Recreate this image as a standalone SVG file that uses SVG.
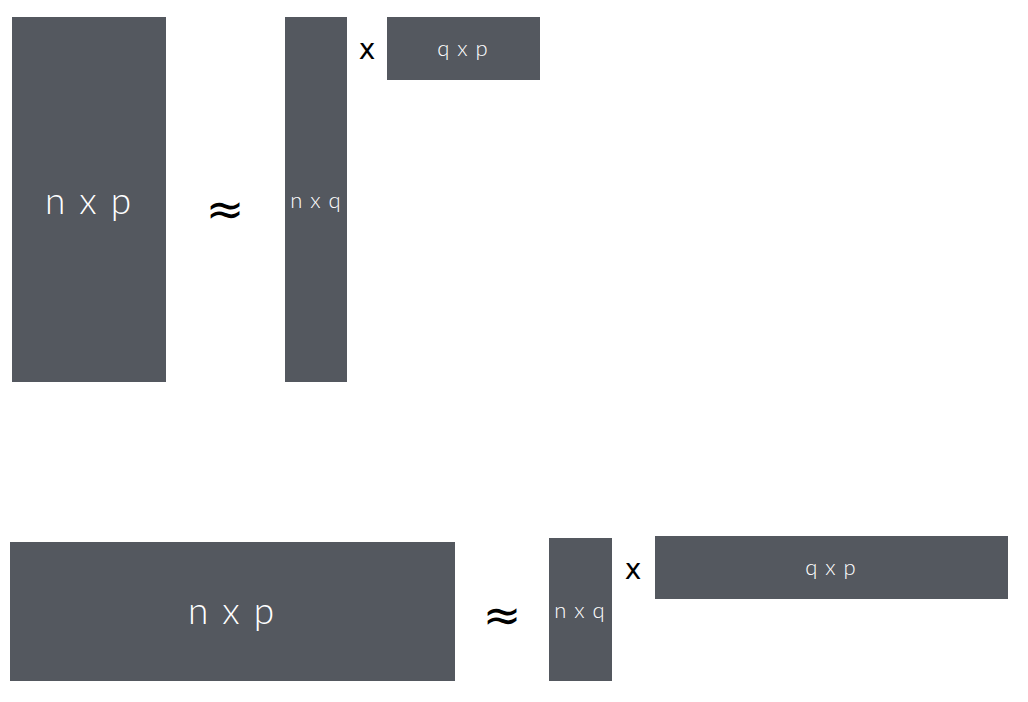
<svg xmlns="http://www.w3.org/2000/svg" width="1028" height="702" viewBox="0 0 1028 702">
<style>
.m{fill:#54585f}
.t{fill:#ffffff;font-family:Lato,"Open Sans",sans-serif;font-weight:300;text-anchor:middle;dominant-baseline:central}
.op{fill:#000000;font-family:"DejaVu Sans",sans-serif;text-anchor:middle;dominant-baseline:central}
</style>
<rect width="1028" height="702" fill="#ffffff"/>
<g id="top-nxp"><rect class="m" x="12" y="17" width="154" height="365"/><text class="t" x="89" y="199" font-size="37" letter-spacing="2">n x p</text></g>
<g id="top-approx"><text class="op" x="225" y="209" font-size="46">≈</text></g>
<g id="top-nxq"><rect class="m" x="285" y="17" width="62" height="365"/><text class="t" x="316" y="199" font-size="22" letter-spacing="1">n x q</text></g>
<g id="top-times"><text class="op" x="367" y="49" font-size="28">x</text></g>
<g id="top-qxp"><rect class="m" x="387" y="17" width="153" height="63"/><text class="t" x="463" y="47" font-size="22" letter-spacing="1">q x p</text></g>
<g id="bot-nxp"><rect class="m" x="10" y="542" width="445" height="139"/><text class="t" x="232" y="609" font-size="37" letter-spacing="2">n x p</text></g>
<g id="bot-approx"><text class="op" x="502" y="615" font-size="46">≈</text></g>
<g id="bot-nxq"><rect class="m" x="549" y="538" width="63" height="143"/><text class="t" x="580" y="609" font-size="22" letter-spacing="1">n x q</text></g>
<g id="bot-times"><text class="op" x="633" y="569" font-size="28">x</text></g>
<g id="bot-qxp"><rect class="m" x="655" y="536" width="353" height="63"/><text class="t" x="831" y="566" font-size="22" letter-spacing="1">q x p</text></g>
<g id="connectors"></g>
</svg>
